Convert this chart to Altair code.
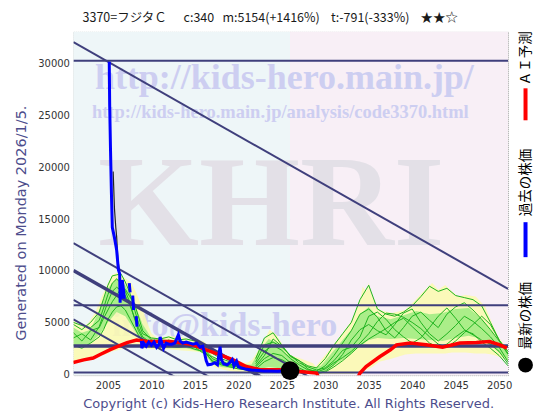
import altair as alt
import pandas as pd

# ---------------- data ----------------
x_ticks = [2005, 2010, 2015, 2020, 2025, 2030, 2035, 2040, 2045, 2050]
y_ticks = [0, 5000, 10000, 15000, 20000, 25000, 30000]

# past share price (blue), segment ids mark gaps in the record
past_years = [2005.15, 2005.2, 2005.3, 2005.4, 2005.5, 2005.75, 2006.0, 2006.2, 2006.35, 2006.4,
              2006.45, 2006.55, 2006.65, 2006.75, 2006.9,
              2007.45, 2007.55,
              2007.85, 2007.95,
              2008.25, 2008.35,
              2008.85, 2008.9, 2009.1, 2009.4, 2009.7, 2010.0, 2010.3, 2010.6, 2010.9, 2011.0,
              2011.2, 2011.4, 2011.7, 2012.0, 2012.35, 2012.7, 2013.1, 2013.3, 2013.6, 2014.0,
              2014.4, 2014.8, 2015.2, 2015.6, 2015.9, 2016.1, 2016.3, 2016.5, 2016.9, 2017.3,
              2017.6, 2017.9, 2018.05, 2018.3, 2018.7, 2019.0, 2019.3, 2019.5, 2019.8, 2020.0,
              2020.3, 2020.8, 2021.5, 2022.3, 2023.0, 2023.8, 2024.5, 2025.2, 2025.9]
past_price = [30200, 26000, 21500, 17500, 14200, 13200, 12000, 10100, 9700, 6900,
              8800, 7300, 9100, 8400, 7300,
              8800, 7900,
              7600, 6200,
              5600, 4600,
              3200, 2500, 3000, 2700, 3100, 2800, 3100, 2600, 2900, 3600,
              3000, 2500, 3000, 2900, 2900, 3000, 3800, 3200, 3000, 3100,
              3000, 2900, 3000, 2600, 2700, 2100, 1300, 900, 950, 1100,
              900, 2650, 1400, 1000, 900, 1100, 1400, 800, 1250, 700,
              600, 500, 400, 350, 300, 300, 280, 320, 340]
past_seg = [0] * 15 + [1] * 2 + [2] * 2 + [3] * 2 + [4] * 49

# thin black reference line next to the early price
ref_years = [2005.6, 2005.75, 2005.9, 2006.0, 2006.15, 2006.3]
ref_vals = [19600, 16000, 14200, 13300, 11000, 10100]

# AI prediction (red)
ai_years = [2001.0, 2002.2, 2003.3, 2004.1, 2005.2, 2006.2, 2007.2, 2008.3, 2009.5, 2011.0,
            2012.1, 2013.7, 2014.8, 2016.3, 2017.9, 2019.4, 2020.9, 2022.5, 2024.8, 2027.1,
            2029.0, 2029.4, 2033.6, 2034.0, 2034.7, 2036.3, 2037.5, 2038.2, 2039.8, 2041.6,
            2043.5, 2045.5, 2047.4, 2048.9, 2050.1, 2050.9]
ai_pred = [1120, 1380, 1550, 1900, 2350, 2700, 3050, 3300, 3150, 3150,
           3150, 3000, 2830, 2350, 1860, 1380, 730, 415, 415, 250,
           100, -600, -600, 100, 730, 1700, 2350, 2830, 3000, 2830,
           2600, 3000, 3050, 3150, 2830, 2510]

# latest price
latest_year = [2025.95]
latest_price = [340]

# simulated pattern envelope (yellow)
env_years = [2001.03, 2002.0, 2002.7, 2003.5, 2004.3, 2005.0, 2005.5, 2006.1, 2006.8, 2007.7,
             2008.3, 2008.9, 2009.4, 2010.0, 2010.6, 2012.1, 2013.2, 2014.7, 2016.0, 2016.5,
             2017.2, 2018.0, 2019.0, 2020.0, 2021.0, 2021.6, 2022.1, 2022.8, 2023.6, 2024.4,
             2025.1, 2025.9, 2027.0, 2028.6, 2028.9, 2030.5, 2032.0, 2033.1, 2034.1, 2034.3,
             2034.7, 2035.0, 2035.4, 2036.2, 2037.7, 2039.2, 2040.4, 2041.1, 2042.3, 2043.0,
             2043.8, 2044.6, 2045.3, 2046.1, 2047.3, 2048.4, 2049.2, 2049.9, 2051.03]
env_hi = [5200, 4600, 4900, 5900, 7500, 8800, 9600, 9800, 9400, 8800,
          7800, 6500, 5250, 3960, 3500, 3650, 3650, 3300, 3200, 2800,
          1600, 1400, 1300, 1100, 1100, 1400, 2030, 3000, 4280, 3800,
          2830, 1860, 1550, 1060, 730, 2350, 3960, 5250, 7500, 8470,
          7990, 8800, 7500, 6210, 5900, 6210, 7180, 7830, 8800, 8150,
          8630, 7990, 7500, 7660, 7500, 6530, 4930, 3630, 2300]
env_lo = [1100, 1200, 1300, 1500, 1800, 2000, 2200, 2300, 2500, 2600,
          2600, 2500, 2500, 2400, 2400, 2400, 2300, 2200, 2100, 1500,
          700, 500, 300, 200, 150, 120, 100, 100, 100, 100,
          100, 50, 0, 0, 0, 0, 0, 0, 200, 300,
          400, 500, 700, 1200, 1500, 1900, 2000, 2000, 2000, 2000,
          2000, 2100, 2100, 2100, 2000, 2000, 1900, 1700, 1300]

# inner band of the patterns (light green)
band_years = [2001.03, 2002.0, 2003.0, 2004.0, 2005.0, 2006.0, 2007.0, 2008.0, 2009.0, 2010.0,
              2012.0, 2014.0, 2016.0, 2017.0, 2018.0, 2020.0, 2021.5, 2022.5, 2023.5, 2024.5,
              2025.5, 2027.0, 2028.5, 2029.5, 2030.5, 2032.0, 2033.0, 2034.0, 2035.0, 2036.0,
              2037.5, 2039.0, 2040.5, 2042.0, 2043.5, 2045.0, 2046.5, 2048.0, 2049.0, 2050.0,
              2051.03]
band_hi = [4500, 4000, 4300, 6200, 8300, 9300, 8600, 7000, 4800, 3500,
           3300, 3200, 2900, 1700, 1300, 1000, 900, 2400, 3400, 3000,
           2000, 1100, 600, 800, 1800, 3300, 4300, 5800, 6500, 5600,
           5300, 5700, 6100, 5800, 5900, 6300, 6400, 5300, 4300, 3100,
           2100]
band_lo = [2800, 2600, 3000, 3800, 5000, 6000, 5600, 4300, 3000, 2600,
           2500, 2500, 2100, 1000, 700, 500, 300, 500, 700, 600,
           400, 200, 100, 150, 600, 1400, 2000, 2700, 3300, 3500,
           3400, 3500, 3400, 3300, 3200, 3500, 3700, 3400, 2800, 2100,
           1300]

# similar-pattern lines (green), past part
pg_years = [2001.03, 2002, 2003, 2004, 2004.5, 2005, 2005.5, 2006, 2006.5, 2007, 2007.5, 2008,
            2008.5, 2009, 2010, 2011, 2012, 2013, 2014, 2015, 2016, 2017, 2018, 2019, 2020,
            2021, 2022, 2023, 2024]
pg_lines = {
    "p1": [4800, 4300, 5000, 6000, 7300, 8600, 9500, 9600, 9700, 8900, 7900, 6400, 5000, 3900,
           3500, 3400, 3600, 3300, 3400, 3200, 2800, 2000, 1500, 1200, 900, 600, 500, 400, 300],
    "p2": [3500, 3900, 3300, 4600, 5800, 7000, 8000, 8400, 8100, 7600, 6700, 5600, 4500, 3600,
           3000, 3200, 2900, 3100, 2800, 2900, 2500, 1500, 1100, 800, 700, 500, 300, 250, 200],
    "p3": [2800, 2500, 3000, 3600, 4300, 5300, 6000, 6500, 6600, 6200, 5400, 4600, 3800, 3200,
           2700, 2800, 2700, 2600, 2700, 2400, 2200, 1300, 900, 700, 500, 400, 300, 200, 150],
    "p4": [4000, 3200, 4200, 4500, 5400, 6200, 7000, 7600, 8300, 8200, 7500, 6900, 5600, 4200,
           3300, 3000, 3300, 2900, 3000, 2600, 2000, 1700, 1300, 900, 800, 600, 400, 300, 250],
    "p5": [5000, 4700, 4500, 5200, 6400, 7700, 8800, 9200, 8800, 8000, 7000, 5500, 4200, 3400,
           3100, 3300, 3000, 2800, 3100, 2800, 2400, 1200, 1000, 1000, 700, 450, 350, 300, 200],
}
# similar-pattern lines (green), future part
fg_years = [2022, 2023, 2024, 2025, 2026, 2027, 2028, 2029, 2030, 2031, 2032, 2033, 2034, 2035,
            2036, 2037, 2038, 2039, 2040, 2041, 2042, 2043, 2044, 2045, 2046, 2047, 2048, 2049,
            2050, 2051.03]
fg_lines = {
    "f1": [1500, 3500, 4000, 2800, 1700, 1300, 800, 600, 1500, 2800, 3900, 5000, 7200, 8600,
           6300, 5800, 5600, 6000, 6600, 7500, 8500, 8000, 8300, 7600, 7400, 7200, 6600, 5000,
           3300, 2200],
    "f2": [1000, 2200, 2800, 2300, 1500, 900, 400, 300, 800, 1800, 3000, 4200, 5800, 6300,
           5500, 4200, 3500, 4500, 5600, 6000, 5200, 4500, 5800, 6500, 6900, 6200, 5300, 4300,
           3200, 1900],
    "f3": [700, 1500, 2000, 1800, 1100, 600, 200, 100, 300, 900, 1900, 3300, 4300, 4800,
           4200, 3800, 4800, 5900, 6300, 5000, 3900, 3200, 3900, 4700, 5600, 5100, 4400, 3600,
           2600, 1200],
    "f4": [1200, 2800, 3100, 2600, 1800, 1100, 700, 400, 600, 1300, 2300, 2600, 3600, 5600,
           6000, 5300, 4300, 3600, 3000, 3500, 4500, 5600, 6400, 5400, 4300, 3800, 3300, 2900,
           2200, 1000],
    "f5": [800, 1800, 3400, 2700, 1800, 1300, 500, 200, 500, 1100, 1600, 2200, 3000, 3900,
           5100, 5900, 5800, 5500, 5000, 4400, 3600, 2900, 2600, 3200, 4000, 4800, 5600, 4800,
           3300, 2000],
    "f6": [500, 1200, 1600, 1400, 900, 400, 150, 50, 200, 700, 1300, 2000, 2800, 3400,
           3900, 4400, 5000, 5400, 4600, 3800, 3000, 2600, 2900, 3600, 4200, 3900, 3100, 2500,
           1800, 800],
}

# support / resistance lines
h_levels = [30300, 6650, 2730, 150]
h_widths = [2, 2, 3.5, 2]
diag_start = [32100, 12660, 10010, 7180, 5300]
diag_widths = [2, 2, 3.5, 2, 2]
diag_slope = -477  # per year

NB = "\u00a0"
title_text = ("3370=フジタＣ" + NB * 6 + "c:340" + NB * 3 + "m:5154(+1416%)" + NB * 4
              + "t:-791(-333%)" + NB * 4 + "★★☆")

# ---------------- layout ----------------
X_DOM = [2001.03, 2051.03]
Y_DOM = [-100, 33100]
W, H = 435, 343.6
xs = alt.Scale(domain=X_DOM, nice=False, zero=False)
ys = alt.Scale(domain=Y_DOM, nice=False, zero=False)
NAVY = "#3f3f7c"
TXT_BLUE = "#4d4d8c"

X_AXIS = alt.Axis(
    values=x_ticks, format="d", grid=True,
    title="Copyright (c) Kids-Hero Research Institute. All Rights Reserved.",
    titleX=215, titleY=28, titleAlign="center", titleBaseline="middle", titleAngle=0,
    titleColor=TXT_BLUE, titleFontSize=13, titleFont="DejaVu Sans", titleFontWeight="normal",
    labelPadding=5)
Y_AXIS = alt.Axis(
    values=y_ticks, format="d", grid=True,
    title="Generated on Monday 2026/1/5.",
    titleX=-51.5, titleY=191, titleAngle=270, titleAlign="center", titleBaseline="middle",
    titleColor=TXT_BLUE, titleFontSize=14.5, titleFont="DejaVu Sans", titleFontWeight="normal",
    labelPadding=4)


def X(field):
    return alt.X(field, scale=xs, axis=X_AXIS)


def Y(field):
    return alt.Y(field, scale=ys, axis=Y_AXIS)


# background tints (past / future)
bg = pd.DataFrame({"x": [X_DOM[0], 2025.95], "x2": [2025.95, X_DOM[1]],
                   "y": [Y_DOM[0]] * 2, "y2": [Y_DOM[1]] * 2,
                   "c": ["#eef6f8", "#f8eff6"]})
bg_layer = alt.Chart(bg).mark_rect().encode(
    x=X("x:Q"), x2="x2:Q", y=Y("y:Q"), y2="y2:Q", color=alt.Color("c:N", scale=None))


def free_text(text, x, y, size, color, font, weight="normal", align="left",
              baseline="alphabetic", angle=0):
    return alt.Chart(pd.DataFrame({"t": [text]})).mark_text(
        font=font, fontWeight=weight, fontSize=size, color=color, angle=angle,
        align=align, baseline=baseline).encode(
        x=alt.value(x), y=alt.value(y), text="t:N")


SERIF = "Liberation Serif"
wm1 = free_text("http://kids-hero.main.jp/", 21.5, 57.5, 36, "#cdcef1", SERIF, "bold")
wm2 = free_text("http://kids-hero.main.jp/analysis/code3370.html", 18.5, 86, 18.5, "#cdcef1",
                SERIF, "bold")
wm3 = free_text("KHRI", 24.5, 213.3, 130, "#e3e0e7", SERIF, "bold")
wm4 = free_text("info@kids-hero", 38.5, 304.5, 34, "#cdcef1", SERIF, "bold")

title_layer = free_text(title_text, 197, -13.5, 12.5, "#1a1a1a", "Noto Sans CJK JP",
                        align="center", baseline="middle")

env_df = pd.DataFrame({"year": env_years, "hi": env_hi, "lo": env_lo})
env_layer = alt.Chart(env_df).mark_area(color="#fbfaae", opacity=0.85, clip=True).encode(
    x=X("year:Q"), y=Y("hi:Q"), y2="lo:Q")

band_df = pd.DataFrame({"year": band_years, "hi": band_hi, "lo": band_lo})
band_layer = alt.Chart(band_df).mark_area(color="#a2ec84", opacity=0.9, clip=True).encode(
    x=X("year:Q"), y=Y("hi:Q"), y2="lo:Q")

g_rows = []
for k, vals in pg_lines.items():
    for yr, v in zip(pg_years, vals):
        g_rows.append({"id": k, "year": yr, "v": v})
for k, vals in fg_lines.items():
    for yr, v in zip(fg_years, vals):
        g_rows.append({"id": k, "year": yr, "v": v})
green_layer = alt.Chart(pd.DataFrame(g_rows)).mark_line(
    color="#1fb31f", strokeWidth=1, clip=True).encode(
    x=X("year:Q"), y=Y("v:Q"), detail="id:N")

h_layer = alt.Chart(pd.DataFrame({"v": h_levels, "w": h_widths})).mark_rule(
    color=NAVY, clip=True).encode(
    y=Y("v:Q"), strokeWidth=alt.StrokeWidth("w:Q", scale=None))

d_df = pd.DataFrame({"x": [X_DOM[0]] * len(diag_start), "x2": [X_DOM[1]] * len(diag_start),
                     "y": diag_start,
                     "y2": [s + diag_slope * (X_DOM[1] - X_DOM[0]) for s in diag_start],
                     "w": diag_widths})
d_layer = alt.Chart(d_df).mark_rule(color=NAVY, clip=True).encode(
    x=X("x:Q"), x2="x2:Q", y=Y("y:Q"), y2="y2:Q",
    strokeWidth=alt.StrokeWidth("w:Q", scale=None))

ref_layer = alt.Chart(pd.DataFrame({"year": ref_years, "v": ref_vals})).mark_line(
    color="#222222", strokeWidth=1.2, clip=True).encode(x=X("year:Q"), y=Y("v:Q"))

red_layer = alt.Chart(pd.DataFrame({"year": ai_years, "v": ai_pred})).mark_line(
    color="#ff0000", strokeWidth=3.5, clip=True).encode(x=X("year:Q"), y=Y("v:Q"))

blue_layer = alt.Chart(pd.DataFrame({"year": past_years, "v": past_price, "s": past_seg})).mark_line(
    color="#0000ff", strokeWidth=3, clip=True).encode(
    x=X("year:Q"), y=Y("v:Q"), detail="s:N")

dot_layer = alt.Chart(pd.DataFrame({"year": latest_year, "v": latest_price})).mark_circle(
    color="#000000", opacity=1, size=350).encode(x=X("year:Q"), y=Y("v:Q"))

# legend on the right (vertical text)
LX = 452.5


def leg_bar(y1, y2, color):
    return alt.Chart(pd.DataFrame({"a": [0]})).mark_rule(color=color, strokeWidth=4).encode(
        x=alt.value(LX), y=alt.value(y1), y2=alt.value(y2))


JP = "Noto Sans CJK JP"
leg = [
    free_text("ＡＩ予測", LX, 26.5, 13.5, "#000000", JP, align="center", baseline="middle", angle=270),
    leg_bar(56.5, 88.5, "#ff0000"),
    free_text("過去の株価", LX, 150.8, 13.5, "#000000", JP, align="center", baseline="middle", angle=270),
    leg_bar(190.5, 225.5, "#0000ff"),
    free_text("最新の株価", LX, 284, 13.5, "#000000", JP, align="center", baseline="middle", angle=270),
    alt.Chart(pd.DataFrame({"a": [0]})).mark_circle(color="#000000", opacity=1, size=220).encode(
        x=alt.value(LX), y=alt.value(333.5)),
]

chart = alt.layer(
    bg_layer, wm1, wm2, wm3, wm4, env_layer, band_layer, green_layer,
    h_layer, d_layer, ref_layer, red_layer, blue_layer, dot_layer, title_layer, *leg
).properties(
    width=W, height=H,
    padding={"left": 65.5, "top": 23.7, "right": 44, "bottom": 40},
    autosize=alt.AutoSizeParams(type="none"),
).configure_view(
    stroke="#999999", strokeDash=[1, 1], strokeWidth=1
).configure_axis(
    domain=False, ticks=False, labelFont="DejaVu Sans", labelFontSize=10,
    labelColor="#333333", gridColor="#d2d2d2", gridWidth=1
)

chart.save("out.html", embed_options={"renderer": "svg", "actions": False})
